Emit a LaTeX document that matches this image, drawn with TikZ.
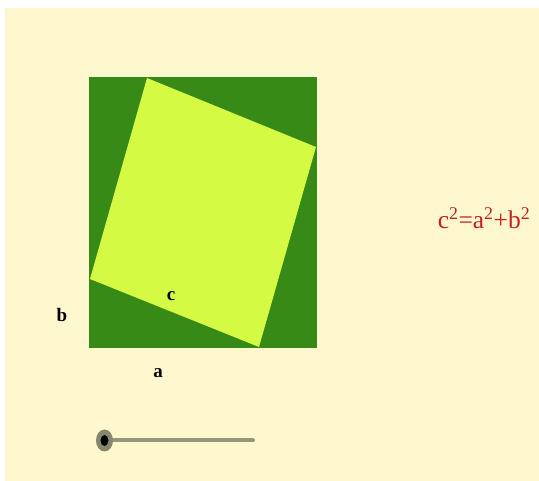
\documentclass[tikz,border=0pt]{standalone}
\usepackage{fontspec}
\setmainfont{Liberation Serif}
\usetikzlibrary{positioning}
\definecolor{paper}{RGB}{255,248,207}
\definecolor{outergreen}{RGB}{56,138,22}
\definecolor{innerlime}{RGB}{212,250,68}
\definecolor{formulared}{RGB}{196,32,32}
\definecolor{sliderolive}{RGB}{150,150,122}
\definecolor{sliderhalo}{RGB}{135,135,110}
\tikzset{
  proof/.style={x=1pt,y=-1pt},
  sidelabel/.style={font=\bfseries\fontsize{19}{21}\selectfont,inner sep=0pt},
  formula/.style={text=formulared,font=\fontsize{25.5}{28}\selectfont,inner sep=0pt},
  track/.style={draw=sliderolive,line width=4pt,line cap=round},
}

\begin{document}
\begin{tikzpicture}[proof]
\useasboundingbox (0,0) rectangle (539,481);
\fill[white] (0,0) rectangle (539,481);
\fill[paper] (5,8) rectangle (539,481);
% outer rectangle and tilted square
\fill[outergreen] (89,77) rectangle (317,348);
\fill[innerlime] (147,78) -- (316,147) -- (259,347) -- (90,279) -- cycle;
% side labels
\node[sidelabel] (labelb) at (62,315) {b};
\node[sidelabel] (labela) at (158,373) {a};
\node[sidelabel] (labelc) at (171,296) {c};
\node[formula] (pyth) at (484,218) {c\textsuperscript{2}=a\textsuperscript{2}+b\textsuperscript{2}};
% slider
\coordinate (sliderstart) at (104.5,440.5);
\coordinate (sliderend) at (253,440.5);
\draw[track] (sliderstart) -- (sliderend);
\fill[sliderhalo] (sliderstart) ellipse [x radius=8.5, y radius=11];
\fill[black] (sliderstart) ellipse [x radius=4, y radius=5.5];
\end{tikzpicture}
\end{document}
